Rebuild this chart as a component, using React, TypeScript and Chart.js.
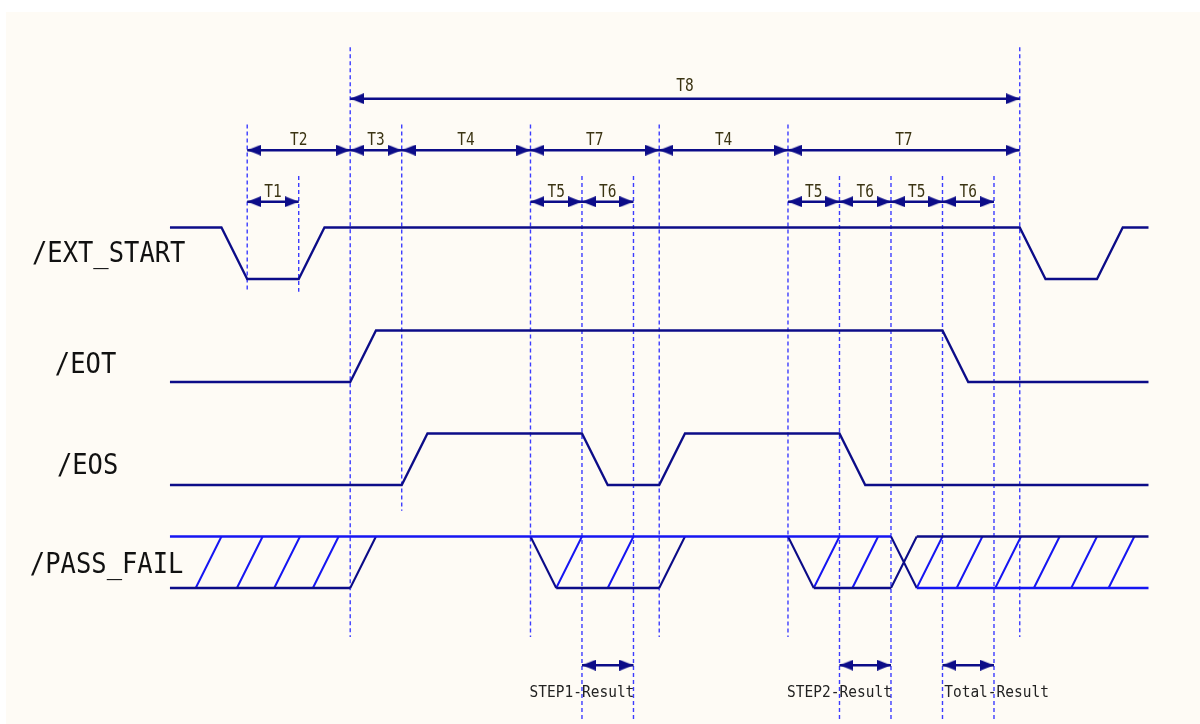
import React, { useEffect, useRef } from 'react';
import { Chart, registerables } from 'chart.js';

Chart.register(...registerables);

// ---- Time axis: one unit = one edge transition time ----
// Signal waveforms (time, logic level)
const extStartTimes = [0, 2, 3, 5, 6, 33, 34, 36, 37, 38];
const extStartLevels = [1, 1, 0, 0, 1, 1, 0, 0, 1, 1];
const eotTimes = [0, 7, 8, 30, 31, 38];
const eotLevels = [0, 0, 1, 1, 0, 0];
const eosTimes = [0, 9, 10, 16, 17, 19, 20, 26, 27, 38];
const eosLevels = [0, 0, 1, 1, 0, 0, 1, 1, 0, 0];

const signalNames = ['/EXT_START', '/EOT', '/EOS', '/PASS_FAIL'];
const signalBase = [12, 8, 4, 0];
const signalNameT = [-5.36, -4.47, -4.39, -5.44];
const signalNameLift = [0.93, 0.62, 0.7, 0.85];
const signalSwing = 2;

// /PASS_FAIL bus (valid / undefined regions)
const pfTopBlueSpans = [[0, 28]];
const pfBottomNavySpans = [[0, 7], [15, 19], [25, 28]];
const pfTopNavySpans = [[29, 38]];
const pfBottomBlueSpans = [[29, 38]];
const pfRiseTimes = [7, 19, 28];
const pfFallTimes = [14, 24, 28];
const pfHatchTimes = [1, 2.6, 4.05, 5.55, 15, 17, 25, 26.5, 29, 30.55, 32.05, 33.55, 35, 36.45];

// Reference (dotted) lines
const markerTimes = [3, 5, 7, 9, 14, 16, 18, 19, 24, 26, 28, 30, 32, 33];
const markerTop = [18, 16, 21, 18, 18, 16, 16, 18, 18, 16, 16, 16, 16, 21];
const markerBottom = [11.5, 11.5, -1.9, 3, -1.9, -5.2, -5.2, -1.9, -1.9, -5.2, -5.2, -5.2, -5.2, -1.9];

// Interval dimension arrows
const intervalLabels = ['T8', 'T2', 'T3', 'T4', 'T7', 'T4', 'T7', 'T1', 'T5', 'T6', 'T5', 'T6', 'T5', 'T6'];
const intervalStart = [7, 3, 7, 9, 14, 19, 24, 3, 14, 16, 24, 26, 28, 30];
const intervalEnd = [33, 7, 9, 14, 19, 24, 33, 5, 16, 18, 26, 28, 30, 32];
const intervalRow = [19, 17, 17, 17, 17, 17, 17, 15, 15, 15, 15, 15, 15, 15];

const resultLabels = ['STEP1-Result', 'STEP2-Result', 'Total-Result'];
const resultStart = [16, 26, 30];
const resultEnd = [18, 28, 32];
const resultLabelT = [16, 26, 32.1];
const resultRow = -3;

const NAVY = '#0c0c88';
const BLUE = '#1616f2';
const DOT = '#3c3cff';

type P = { x: number; y: number | null };

function stepData(times: number[], levels: number[], base: number): P[] {
  return times.map((t, i) => ({ x: t, y: base + levels[i] * signalSwing }));
}
function spans(list: number[][], y: number): P[] {
  return list.flatMap(([a, b]) => [{ x: a, y }, { x: b, y }, { x: b, y: null }]);
}
function edges(times: number[], from: number, to: number): P[] {
  return times.flatMap((t) => [{ x: t, y: from }, { x: t + 1, y: to }, { x: t + 1, y: null }]);
}

export default function App() {
  const ref = useRef<HTMLCanvasElement>(null);

  useEffect(() => {
    document.body.style.margin = '0';
    const canvas = ref.current;
    if (!canvas) return;

    const head = document.createElement('canvas');
    head.width = 28;
    head.height = 11;
    const hc = head.getContext('2d')!;
    hc.fillStyle = NAVY;
    hc.beginPath();
    hc.moveTo(0, 0);
    hc.lineTo(14, 5.5);
    hc.lineTo(0, 11);
    hc.closePath();
    hc.fill();

    const lineBase = {
      showLine: true,
      pointRadius: 0,
      pointHoverRadius: 0,
      tension: 0,
      fill: false,
      borderCapStyle: 'butt' as const,
    };

    const shafts: P[] = [];
    const headsR: P[] = [];
    const headsL: P[] = [];
    intervalStart.forEach((s, i) => {
      const e = intervalEnd[i];
      const r = intervalRow[i];
      shafts.push({ x: s, y: r }, { x: e, y: r }, { x: e, y: null });
      headsR.push({ x: e, y: r });
      headsL.push({ x: s, y: r });
    });
    resultStart.forEach((s, i) => {
      const e = resultEnd[i];
      shafts.push({ x: s, y: resultRow }, { x: e, y: resultRow }, { x: e, y: null });
      headsR.push({ x: e, y: resultRow });
      headsL.push({ x: s, y: resultRow });
    });

    const markers: P[] = markerTimes.flatMap((t, i) => [
      { x: t, y: markerTop[i] },
      { x: t, y: markerBottom[i] },
      { x: t, y: null },
    ]);

    const hatch = edges(pfHatchTimes, 0, signalSwing);

    const labelPlugin = {
      id: 'timingLabels',
      afterDatasetsDraw(chart: any) {
        const ctx = chart.ctx as CanvasRenderingContext2D;
        const xs = chart.scales.x;
        const ys = chart.scales.y;
        const draw = (
          text: string,
          t: number,
          v: number,
          font: string,
          color: string,
          align: CanvasTextAlign,
          baseline: CanvasTextBaseline,
          sy: number
        ) => {
          ctx.save();
          ctx.font = font;
          ctx.fillStyle = color;
          ctx.textAlign = align;
          ctx.textBaseline = baseline;
          ctx.translate(xs.getPixelForValue(t), ys.getPixelForValue(v));
          ctx.scale(1, sy);
          ctx.fillText(text, 0, 0);
          ctx.restore();
        };
        signalNames.forEach((n, i) =>
          draw(n, signalNameT[i], signalBase[i] + signalNameLift[i], "25.5px 'DejaVu Sans Mono'", '#111111', 'left', 'middle', 1.08)
        );
        intervalLabels.forEach((n, i) =>
          draw(
            n,
            (intervalStart[i] + intervalEnd[i]) / 2,
            intervalRow[i] + (intervalRow[i] === 19 ? 0.3 : 0.2),
            "14.5px 'DejaVu Sans Mono'",
            '#3b3413',
            'center',
            'alphabetic',
            1.22
          )
        );
        resultLabels.forEach((n, i) =>
          draw(n, resultLabelT[i], resultRow - 1.23, "14.5px 'DejaVu Sans Mono'", '#222222', 'center', 'alphabetic', 1.12)
        );
      },
    };

    const chart = new Chart(canvas, {
      type: 'scatter',
      data: {
        datasets: [
          { ...lineBase, label: '/EXT_START', data: stepData(extStartTimes, extStartLevels, signalBase[0]), borderColor: NAVY, borderWidth: 2.3 },
          { ...lineBase, label: '/EOT', data: stepData(eotTimes, eotLevels, signalBase[1]), borderColor: NAVY, borderWidth: 2.3 },
          { ...lineBase, label: '/EOS', data: stepData(eosTimes, eosLevels, signalBase[2]), borderColor: NAVY, borderWidth: 2.3 },
          { ...lineBase, label: 'pf-top-blue', data: spans(pfTopBlueSpans, signalSwing), borderColor: BLUE, borderWidth: 2.3 },
          { ...lineBase, label: 'pf-bot-navy', data: spans(pfBottomNavySpans, 0), borderColor: NAVY, borderWidth: 2.3 },
          { ...lineBase, label: 'pf-top-navy', data: spans(pfTopNavySpans, signalSwing), borderColor: NAVY, borderWidth: 2.3 },
          { ...lineBase, label: 'pf-bot-blue', data: spans(pfBottomBlueSpans, 0), borderColor: BLUE, borderWidth: 2.3 },
          {
            ...lineBase,
            label: 'pf-edges',
            data: [...edges(pfRiseTimes, 0, signalSwing), ...edges(pfFallTimes, signalSwing, 0)],
            borderColor: NAVY,
            borderWidth: 2.1,
          },
          { ...lineBase, label: 'pf-hatch', data: hatch, borderColor: BLUE, borderWidth: 2 },
          { ...lineBase, label: 'shafts', data: shafts, borderColor: NAVY, borderWidth: 2.6 },
          {
            label: 'heads-right',
            data: headsR,
            showLine: false,
            pointRadius: 6,
            pointHoverRadius: 6,
            pointStyle: head as any,
            pointRotation: 0,
          },
          {
            label: 'heads-left',
            data: headsL,
            showLine: false,
            pointRadius: 6,
            pointHoverRadius: 6,
            pointStyle: head as any,
            pointRotation: 180,
          },
          { ...lineBase, label: 'markers', data: markers, borderColor: DOT, borderWidth: 1.4, borderDash: [4, 3] },
        ] as any,
      },
      options: {
        animation: false,
        responsive: false,
        events: [],
        layout: { padding: 0, autoPadding: false },
        plugins: { legend: { display: false }, tooltip: { enabled: false } },
        scales: {
          x: { type: 'linear', min: -6.6, max: 40, display: false },
          y: { type: 'linear', min: -5.282, max: 22.835, display: false },
        },
      },
      plugins: [labelPlugin],
    });

    return () => chart.destroy();
  }, []);

  return (
    <div
      style={{
        position: 'fixed',
        left: 0,
        top: 0,
        width: 1200,
        height: 724,
        background: '#ffffff',
        overflow: 'hidden',
      }}
    >
      <div style={{ position: 'absolute', left: 6, top: 12, width: 1194, height: 712, background: '#fefbf5' }} />
      <canvas
        ref={ref}
        width={1200}
        height={724}
        style={{ position: 'absolute', left: 0, top: 0, width: 1200, height: 724 }}
      />
    </div>
  );
}
